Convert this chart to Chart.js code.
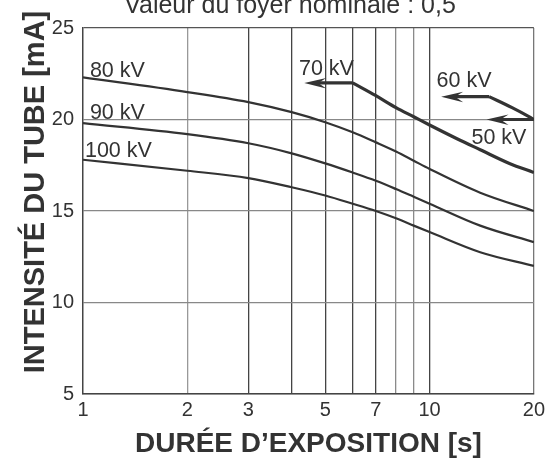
<!DOCTYPE html>
<html>
<head>
<meta charset="utf-8">
<script src="https://cdn.jsdelivr.net/npm/chart.js@4/dist/chart.umd.min.js"></script>
<style>
  html, body { margin: 0; padding: 0; background: #fff; }
  #wrap { width: 549px; height: 466px; }
</style>
</head>
<body>
<div id="wrap"><canvas id="c" width="549" height="466"></canvas></div>
<script>
// Exposure time (s) at which each tube-current curve is sampled
const seconds = [1, 2, 3, 4, 5, 6, 7, 8, 9, 10, 14, 20];
// Tube current (mA) for each voltage
const kv80  = [22.3, 21.5, 20.95, 20.4, 19.85, 19.3, 18.75, 18.25, 17.75, 17.3, 16.0, 15.0];
const kv90  = [19.8, 19.2, 18.7, 18.15, 17.6, 17.1, 16.65, 16.2, 15.78, 15.4, 14.2, 13.3];
const kv100 = [17.8, 17.2, 16.8, 16.3, 15.85, 15.4, 15.0, 14.6, 14.2, 13.85, 12.75, 12.0];

const seconds70 = [6, 7, 8, 9, 10, 12, 14, 17, 20];
const kv70      = [22.0, 21.3, 20.65, 20.15, 19.7, 18.95, 18.35, 17.6, 17.1];

const seconds60 = [14.85, 17.3, 19.35, 20];
const kv60      = [21.25, 20.65, 20.16, 20.0];

// Leader arrows: [time, current] of the tail and of the tip
const arrowTails = [[6, 22.0], [14.85, 21.25], [20, 20.0]];
const arrowTips  = [[4.35, 22.0], [10.8, 21.25], [14.6, 20.0]];

// Axis ticks
const xGridValues = [1, 2, 3, 4, 5, 6, 7, 8, 9, 10, 20];
const xTickLabels = [1, 2, 3, 5, 7, 10, 20];
const yTicks = [5, 10, 15, 20, 25];

const curveLabels = ['80 kV', '90 kV', '100 kV', '70 kV', '60 kV', '50 kV'];

const INK = '#333333';
const FONT = '"Liberation Sans", Arial, sans-serif';

// Where each curve label sits (time, current) and how it is aligned
const labelPlacement = [
  { at: [1.047, 22.67], align: 'left' },
  { at: [1.047, 20.33], align: 'left' },
  { at: [1.013, 18.30], align: 'left' },
  { at: [5.04, 22.78], align: 'center' },
  { at: [12.58, 22.12], align: 'center' },
  { at: [15.86, 18.96], align: 'center' }
];

function pts(xs, ys) { return xs.map((x, i) => ({ x: x, y: ys[i] })); }

function lineSet(data, width) {
  return {
    data: data,
    borderColor: INK,
    borderWidth: width,
    pointRadius: 0,
    fill: false,
    cubicInterpolationMode: 'monotone'
  };
}

function gridColorFor(v) {
  if (v === 1) return 'rgba(0,0,0,0)';
  if (v === 2) return '#999999';
  if (v === 8 || v === 9) return '#8a8a8a';
  if (v === 20) return '#777777';
  return '#444444';
}

const overlay = {
  id: 'overlay',
  afterDatasetsDraw(chart) {
    const ctx = chart.ctx;
    const xs = chart.scales.x, ys = chart.scales.y;
    const area = chart.chartArea;
    ctx.save();

    // leader arrows with slim harpoon heads
    ctx.strokeStyle = INK;
    ctx.fillStyle = INK;
    ctx.lineWidth = 3.2;
    arrowTails.forEach((t, i) => {
      const x0 = xs.getPixelForValue(t[0]), y0 = ys.getPixelForValue(t[1]);
      const x1 = xs.getPixelForValue(arrowTips[i][0]), y1 = ys.getPixelForValue(arrowTips[i][1]);
      const ang = Math.atan2(y1 - y0, x1 - x0);
      ctx.beginPath();
      ctx.moveTo(x0, y0);
      ctx.lineTo(x1 - 10 * Math.cos(ang), y1 - 10 * Math.sin(ang));
      ctx.stroke();
      ctx.save();
      ctx.translate(x1, y1);
      ctx.rotate(ang);
      ctx.beginPath();
      ctx.moveTo(0, 0);
      ctx.lineTo(-22, -5.5);
      ctx.lineTo(-14, 0);
      ctx.lineTo(-22, 5);
      ctx.closePath();
      ctx.fill();
      ctx.restore();
    });

    // curve labels
    ctx.font = '21.5px ' + FONT;
    ctx.fillStyle = INK;
    ctx.textBaseline = 'middle';
    curveLabels.forEach((txt, i) => {
      const p = labelPlacement[i];
      ctx.textAlign = p.align;
      ctx.fillText(txt, xs.getPixelForValue(p.at[0]), ys.getPixelForValue(p.at[1]));
    });

    // heading
    ctx.font = '25px ' + FONT;
    ctx.textAlign = 'center';
    ctx.textBaseline = 'alphabetic';
    ctx.fillText('Valeur du foyer nominale : 0,5', 290, 13);

    // axis titles
    ctx.font = 'bold 28px ' + FONT;
    ctx.fillText('DURÉE D\u2019EXPOSITION [s]', (area.left + area.right) / 2, 452);
    ctx.save();
    ctx.font = 'bold 29px ' + FONT;
    ctx.translate(44, 192);
    ctx.rotate(-Math.PI / 2);
    ctx.fillText('INTENSITÉ DU TUBE [mA]', 0, 0);
    ctx.restore();

    ctx.restore();
  }
};

new Chart(document.getElementById('c'), {
  type: 'line',
  data: {
    datasets: [
      lineSet(pts(seconds, kv80), 2.2),
      lineSet(pts(seconds, kv90), 2.2),
      lineSet(pts(seconds, kv100), 2.2),
      lineSet(pts(seconds70, kv70), 3.2),
      lineSet(pts(seconds60, kv60), 3.2)
    ]
  },
  options: {
    responsive: false,
    animation: false,
    layout: { padding: { top: 28, right: 14, left: 0, bottom: 0 } },
    plugins: { legend: { display: false }, title: { display: false }, tooltip: { enabled: false } },
    scales: {
      x: {
        type: 'logarithmic',
        min: 1,
        max: 20,
        afterBuildTicks(scale) { scale.ticks = xGridValues.map(v => ({ value: v })); },
        afterFit(scale) { scale.height = 72; },
        ticks: {
          autoSkip: false,
          maxRotation: 0,
          padding: 4,
          color: INK,
          font: { size: 20, family: FONT },
          callback: (v) => xTickLabels.includes(v) ? String(v) : ''
        },
        grid: {
          drawTicks: false,
          lineWidth: 1.3,
          color: (c) => gridColorFor(c.tick ? c.tick.value : 0)
        },
        border: { color: '#444444', width: 1.5 }
      },
      y: {
        type: 'linear',
        min: 5,
        max: 25,
        afterBuildTicks(scale) { scale.ticks = yTicks.map(v => ({ value: v })); },
        afterFit(scale) { scale.width = 83; },
        ticks: {
          padding: 9,
          color: INK,
          font: { size: 20, family: FONT }
        },
        grid: {
          drawTicks: false,
          lineWidth: 1.3,
          color: (c) => (c.tick && c.tick.value === 25) ? '#555555' : '#888888'
        },
        border: { color: '#444444', width: 1.5 }
      }
    }
  },
  plugins: [overlay]
});
</script>
</body>
</html>
